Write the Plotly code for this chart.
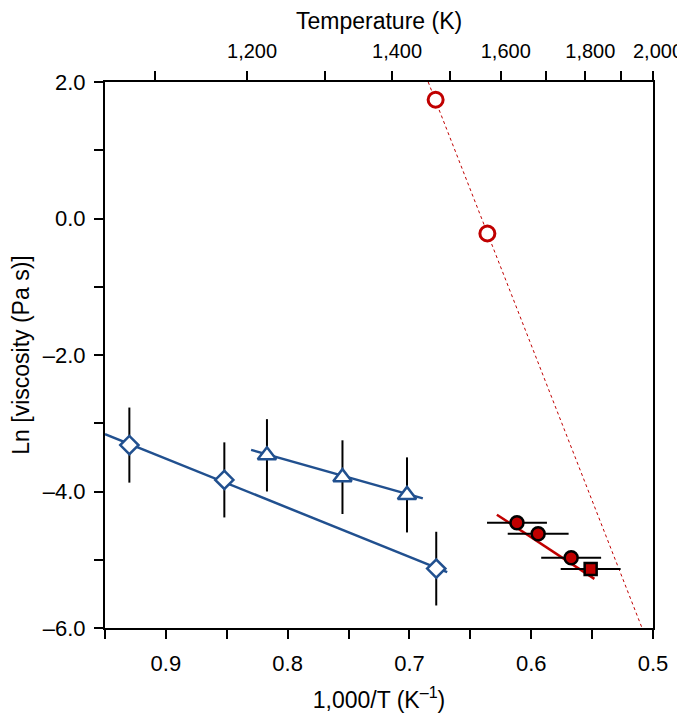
import plotly.graph_objects as go

# ---- data ----
diamond_x = [0.930, 0.852, 0.678]
diamond_y = [-3.32, -3.83, -5.13]
diamond_err = [0.55, 0.55, 0.54]
diamond_fit_x = [0.950, 0.669]
diamond_fit_y = [-3.16, -5.18]

tri_x = [0.817, 0.755, 0.702]
tri_y = [-3.47, -3.79, -4.05]
tri_err = [0.53, 0.54, 0.55]
tri_fit_x = [0.830, 0.689]
tri_fit_y = [-3.39, -4.10]

open_x = [0.6785, 0.636]
open_y = [1.74, -0.22]
open_fit_x = [0.6846, 0.509]
open_fit_y = [2.0, -6.0]

filled_x = [0.6117, 0.5943, 0.5672]
filled_y = [-4.457, -4.62, -4.97]
filled_xerr = [0.0246, 0.025, 0.0246]
square_x = [0.5512]
square_y = [-5.135]
square_xerr = [0.0246]
filled_fit_x = [0.6282, 0.5481]
filled_fit_y = [-4.34, -5.28]

x_tickvals = [0.95, 0.9, 0.85, 0.8, 0.75, 0.7, 0.65, 0.6, 0.55, 0.5]
x_ticktext = [" ", "0.9", " ", "0.8", " ", "0.7", " ", "0.6", " ", "0.5"]
y_tickvals = [2, 1, 0, -1, -2, -3, -4, -5, -6]
y_ticktext = ["2.0", " ", "0.0", " ", "–2.0", " ", "–4.0", " ", "–6.0"]
temps = [1100, 1200, 1300, 1400, 1500, 1600, 1700, 1800, 1900, 2000]
temp_labels = [" ", "1,200", " ", "1,400", " ", "1,600", " ", "1,800", " ", "2,000"]

BLUE = "#21508f"
RED = "#c00000"
FONT = "Liberation Sans, Arial, Helvetica, sans-serif"
TICK_SIZE = 22
TITLE_SIZE = 23

fig = go.Figure()

# fit lines
fig.add_trace(go.Scatter(x=diamond_fit_x, y=diamond_fit_y, mode="lines",
                         line=dict(color=BLUE, width=2.5), hoverinfo="skip"))
fig.add_trace(go.Scatter(x=tri_fit_x, y=tri_fit_y, mode="lines",
                         line=dict(color=BLUE, width=2.5), hoverinfo="skip"))
fig.add_trace(go.Scatter(x=open_fit_x, y=open_fit_y, mode="lines",
                         line=dict(color=RED, width=1, dash="dot"), hoverinfo="skip"))
fig.add_trace(go.Scatter(x=filled_fit_x, y=filled_fit_y, mode="lines",
                         line=dict(color=RED, width=2.5), hoverinfo="skip"))

# points
fig.add_trace(go.Scatter(x=diamond_x, y=diamond_y, mode="markers",
                         error_y=dict(type="data", array=diamond_err, color="black",
                                      thickness=2, width=0),
                         marker=dict(symbol="diamond", size=14, color="white",
                                     line=dict(color=BLUE, width=2.5))))
fig.add_trace(go.Scatter(x=tri_x, y=tri_y, mode="markers",
                         error_y=dict(type="data", array=tri_err, color="black",
                                      thickness=2, width=0),
                         marker=dict(symbol="triangle-up", size=16, color="white",
                                     line=dict(color=BLUE, width=2.5))))
fig.add_trace(go.Scatter(x=open_x, y=open_y, mode="markers",
                         marker=dict(symbol="circle", size=15, color="white",
                                     line=dict(color=RED, width=3))))
fig.add_trace(go.Scatter(x=filled_x, y=filled_y, mode="markers",
                         error_x=dict(type="data", array=filled_xerr, color="black",
                                      thickness=2, width=0),
                         marker=dict(symbol="circle", size=13, color=RED,
                                     line=dict(color="black", width=2.5))))
fig.add_trace(go.Scatter(x=square_x, y=square_y, mode="markers",
                         error_x=dict(type="data", array=square_xerr, color="black",
                                      thickness=2, width=0),
                         marker=dict(symbol="square", size=12, color=RED,
                                     line=dict(color="black", width=2.5))))

# invisible trace for top axis
fig.add_trace(go.Scatter(x=[1000 / t for t in temps], y=[None] * len(temps),
                         xaxis="x2", mode="markers", showlegend=False, hoverinfo="skip"))

axis_common = dict(showline=True, linecolor="black", linewidth=2, ticks="outside",
                   tickcolor="black", tickwidth=2, ticklen=9, showgrid=False,
                   zeroline=False, automargin=False, tickangle=0,
                   ticklabeloverflow="allow")

def tick_font(size):
    return dict(size=size, color="black", family=FONT)

# the page body adds an 8px margin; the figure is sized to fit the 685x721 window
fig.update_layout(
    width=677, height=705,
    margin=dict(l=97, r=32, t=74, b=85),
    paper_bgcolor="white", plot_bgcolor="white",
    showlegend=False,
    font=dict(family=FONT, color="black", size=TICK_SIZE),
    xaxis=dict(range=[0.95, 0.5], tickmode="array", tickvals=x_tickvals,
               ticktext=x_ticktext, ticklabelstandoff=6, tickfont=tick_font(TICK_SIZE),
               title=dict(text="1,000/T (K<sup>–1</sup>)", font=dict(size=TITLE_SIZE),
                          standoff=18),
               **axis_common),
    xaxis2=dict(range=[0.95, 0.5], overlaying="x", side="top", anchor="y",
                tickmode="array", tickvals=[1000 / t for t in temps], ticktext=temp_labels,
                ticklabelstandoff=5, ticklabelshift=-5, tickfont=tick_font(20),
                **axis_common),
    yaxis=dict(range=[-6, 2], tickmode="array", tickvals=y_tickvals, ticktext=y_ticktext,
               mirror=True, ticklabelstandoff=4, tickfont=tick_font(TICK_SIZE),
               title=dict(text="Ln [viscosity (Pa s)]", font=dict(size=TITLE_SIZE),
                          standoff=14),
               **axis_common),
    annotations=[dict(text="Temperature (K)", xref="paper", yref="paper",
                      x=0.5, y=1.1117, xanchor="center", yanchor="middle",
                      showarrow=False, font=dict(size=TITLE_SIZE, family=FONT,
                                                 color="black"))],
)

fig.write_html("out.html")
